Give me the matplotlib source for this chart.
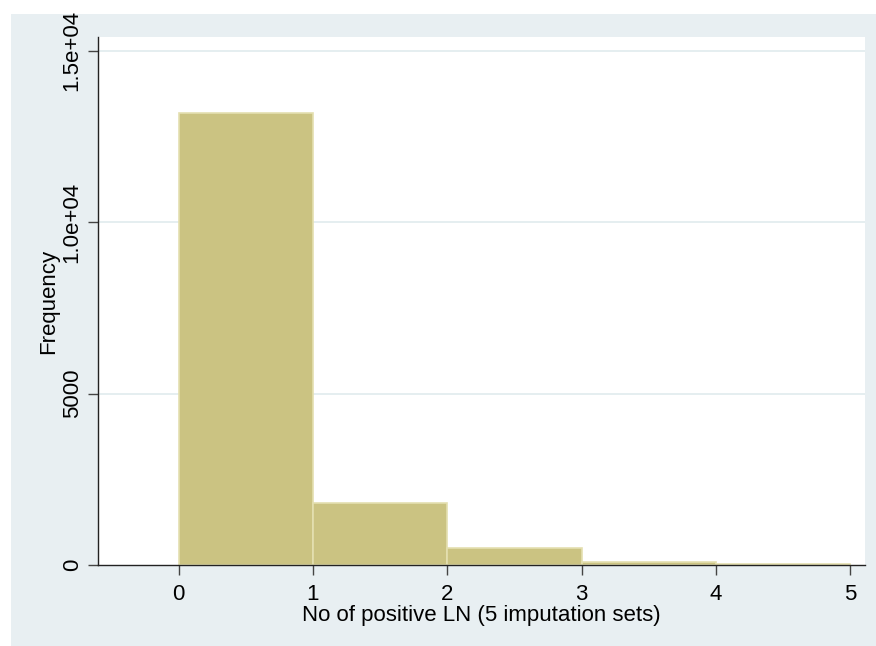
import numpy as np
import matplotlib
matplotlib.use('Agg')
import matplotlib.pyplot as plt
from matplotlib.patches import Rectangle

plt.rcParams['font.family'] = ['Liberation Sans', 'DejaVu Sans']

# histogram of positive lymph nodes, unit-width bins
bin_edges = [0, 1, 2, 3, 4, 5]
counts = [13190, 1820, 490, 88, 22]
yticks = [0, 5000, 10000, 15000]
ytick_labels = ['0', '5000', '1.0e+04', '1.5e+04']
xticks = [0, 1, 2, 3, 4, 5]

bg = '#e8eff2'
bar_color = '#cbc382'
edge_color = '#e4dfb0'

fig = plt.figure(figsize=(8.76, 6.46), dpi=100)
fig.patch.set_facecolor('white')
fig.patches.append(Rectangle((11/876, 0), 1, 1 - 14/646, transform=fig.transFigure,
                             facecolor=bg, edgecolor='none', zorder=-10))

ax = fig.add_axes([98/876, 1 - 565/646, (865-98)/876, (565-37)/646])
ax.set_facecolor('white')

lefts = np.array(bin_edges[:-1])
widths = np.diff(bin_edges)
ax.bar(lefts, counts, width=widths, align='edge', color=bar_color,
       edgecolor=edge_color, linewidth=1.2, zorder=3)

for y in yticks[1:]:
    ax.axhline(y, color='#e3edef', linewidth=1.3, zorder=1)

ax.set_xlim(-0.6, 5.11)
ax.set_ylim(0, 15400)
ax.set_xticks(xticks)
ax.set_yticks(yticks)
ax.set_yticklabels(ytick_labels, rotation=90, va='center')

for s in ['top', 'right']:
    ax.spines[s].set_visible(False)
for s in ['left', 'bottom']:
    ax.spines[s].set_color('#222222')
    ax.spines[s].set_linewidth(1.0)
    ax.spines[s].set_zorder(4)

ax.tick_params(axis='both', length=7, width=1, color='#444444', labelsize=16)
ax.tick_params(axis='x', pad=7)
ax.tick_params(axis='y', pad=4)

ax.set_xlabel('No of positive LN (5 imputation sets)', fontsize=16, labelpad=0)
ax.set_ylabel('Frequency', fontsize=16, labelpad=2)

fig.savefig('out.png', dpi=100)
